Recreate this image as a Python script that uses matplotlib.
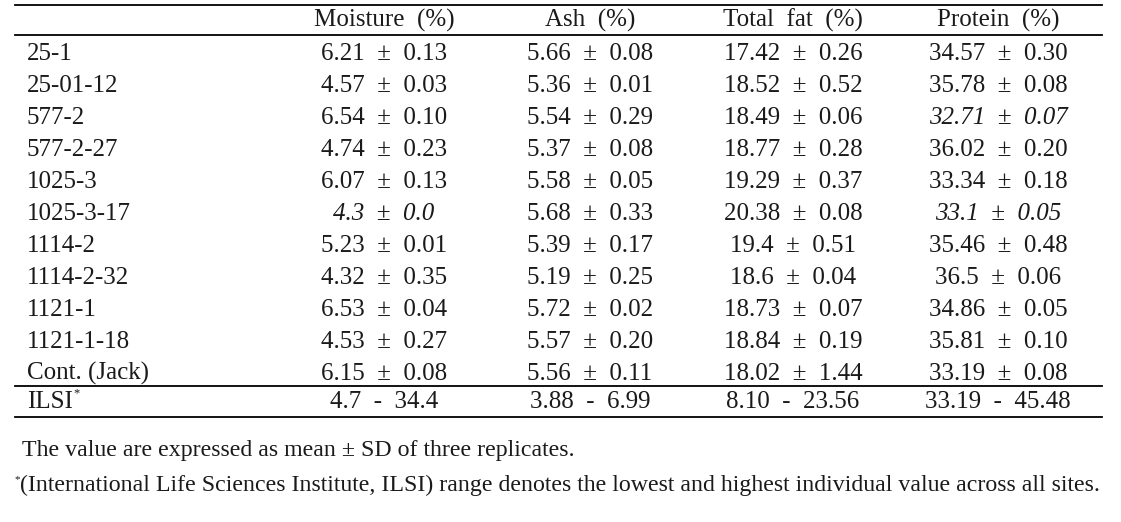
import matplotlib
matplotlib.use("Agg")
from matplotlib import pyplot as plt

# Table content
samples = ["25-1", "25-01-12", "577-2", "577-2-27", "1025-3", "1025-3-17",
           "1114-2", "1114-2-32", "1121-1", "1121-1-18", "Cont. (Jack)"]
headers = ["Moisture  (%)", "Ash  (%)", "Total  fat  (%)", "Protein  (%)"]
moisture = ["6.21 ± 0.13", "4.57 ± 0.03", "6.54 ± 0.10", "4.74 ± 0.23", "6.07 ± 0.13",
            "4.3 ± 0.0", "5.23 ± 0.01", "4.32 ± 0.35", "6.53 ± 0.04", "4.53 ± 0.27",
            "6.15 ± 0.08"]
ash = ["5.66 ± 0.08", "5.36 ± 0.01", "5.54 ± 0.29", "5.37 ± 0.08", "5.58 ± 0.05",
       "5.68 ± 0.33", "5.39 ± 0.17", "5.19 ± 0.25", "5.72 ± 0.02", "5.57 ± 0.20",
       "5.56 ± 0.11"]
total_fat = ["17.42 ± 0.26", "18.52 ± 0.52", "18.49 ± 0.06", "18.77 ± 0.28", "19.29 ± 0.37",
             "20.38 ± 0.08", "19.4 ± 0.51", "18.6 ± 0.04", "18.73 ± 0.07", "18.84 ± 0.19",
             "18.02 ± 1.44"]
protein = ["34.57 ± 0.30", "35.78 ± 0.08", "32.71 ± 0.07", "36.02 ± 0.20", "33.34 ± 0.18",
           "33.1 ± 0.05", "35.46 ± 0.48", "36.5 ± 0.06", "34.86 ± 0.05", "35.81 ± 0.10",
           "33.19 ± 0.08"]
ilsi_label = "ILSI"
ilsi_range = ["4.7 - 34.4", "3.88 - 6.99", "8.10 - 23.56", "33.19 - 45.48"]
# (row, column) cells printed in italics
italic_cells = {(2, 3), (5, 0), (5, 3)}
notes = ["The value are expressed as mean ± SD of three replicates.",
         "(International Life Sciences Institute, ILSI) range denotes the lowest and highest individual value across all sites."]

plt.rcParams['font.family'] = ['Liberation Serif', 'DejaVu Serif']
fig = plt.figure(figsize=(11.21, 5.22), dpi=100)
ax = fig.add_axes([0, 0, 1, 1])
ax.set_xlim(0, 1121)
ax.set_ylim(522, 0)
ax.axis('off')


def cell(s):
    # the original typesetting leaves wide gaps round the sign
    return s.replace(" ± ", "  ±  ").replace(" - ", "  -  ")


fs = 18
color = '#1a1a1a'
col_x = [384, 590, 793, 998]
label_x = 27
row_y0, row_dy = 53, 32
base = 7  # baseline offset below the row centre

# rules
for y in (5, 35, 386, 417):
    ax.plot([15, 1102], [y, y], color='black', lw=1.3)

for x, h in zip(col_x, headers):
    ax.text(x, 20 + base, h, ha='center', va='baseline', fontsize=fs, color=color)

columns = [moisture, ash, total_fat, protein]
for i, name in enumerate(samples):
    y = row_y0 + i * row_dy + base
    ax.text(label_x, y, name, ha='left', va='baseline', fontsize=fs, color=color)
    for j, col in enumerate(columns):
        style = 'italic' if (i, j) in italic_cells else 'normal'
        ax.text(col_x[j], y, cell(col[i]), ha='center', va='baseline', fontsize=fs,
                color=color, style=style)

y = 401 + base
lab = ax.text(label_x, y, ilsi_label, ha='left', va='baseline', fontsize=fs, color=color)
fig.canvas.draw()
bb = lab.get_window_extent().transformed(ax.transData.inverted())
ax.text(max(bb.x0, bb.x1) + 1, y - 12, "*", ha='left', va='baseline', fontsize=9, color=color)
for j, r in enumerate(ilsi_range):
    ax.text(col_x[j], y, cell(r), ha='center', va='baseline', fontsize=fs, color=color)

ax.text(22, 456, notes[0], ha='left', va='baseline', fontsize=17.2, color=color)
ax.text(14, 482, "*", ha='left', va='baseline', fontsize=8, color=color)
ax.text(20, 491, notes[1], ha='left', va='baseline', fontsize=17.2, color=color)

fig.savefig('out.png', dpi=100)
